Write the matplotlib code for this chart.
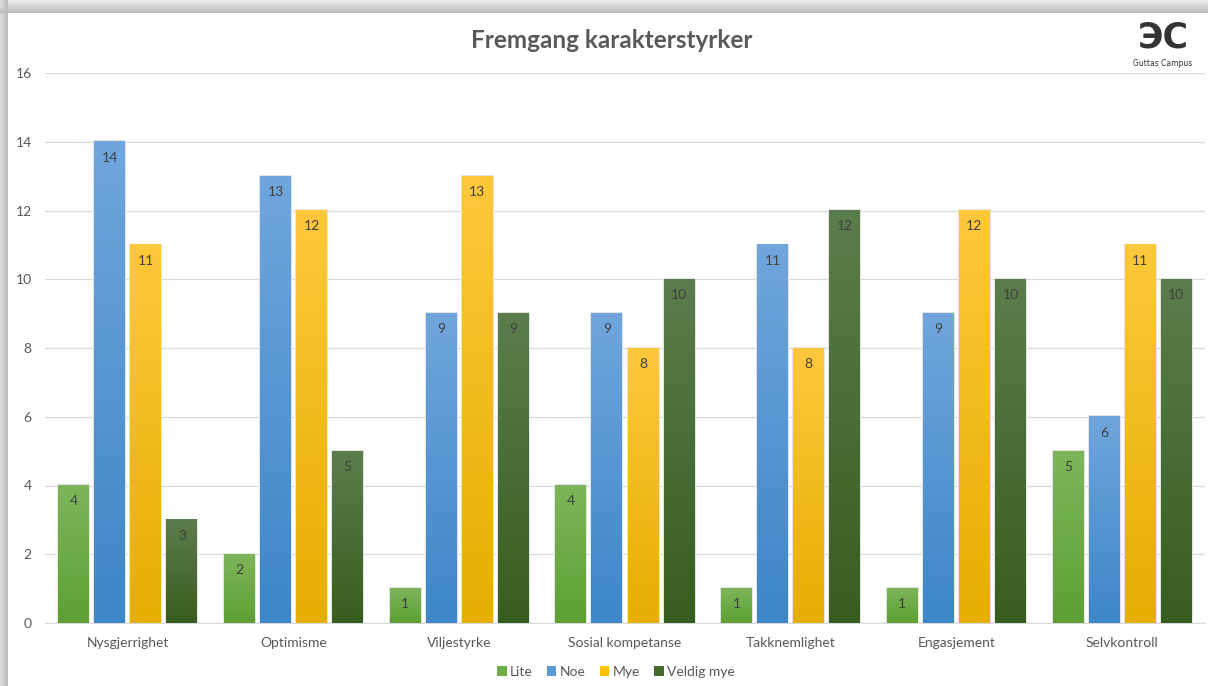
import numpy as np
import matplotlib
matplotlib.use("Agg")
import matplotlib.pyplot as plt
from matplotlib.patches import Patch, Rectangle
from matplotlib.colors import to_rgb

plt.rcParams['font.family'] = ['Lato', 'DejaVu Sans']

categories = ["Nysgjerrighet", "Optimisme", "Viljestyrke", "Sosial kompetanse",
              "Takknemlighet", "Engasjement", "Selvkontroll"]
lite = [4, 2, 1, 4, 1, 1, 5]
noe = [14, 13, 9, 9, 11, 9, 6]
mye = [11, 12, 13, 8, 8, 12, 11]
veldig_mye = [3, 5, 9, 10, 12, 10, 10]
series_names = ["Lite", "Noe", "Mye", "Veldig mye"]
series_values = [lite, noe, mye, veldig_mye]
title = "Fremgang karakterstyrker"
yticks = [0, 2, 4, 6, 8, 10, 12, 14, 16]

legend_colors = ["#70AD47", "#5B9BD5", "#FFC000", "#446B2E"]
grad_top = ["#7DB65A", "#70A6DD", "#FFC83C", "#5B7D4C"]
grad_bot = ["#5EA034", "#3D86C8", "#E5AE00", "#375E1F"]

W, H = 1208, 686
fig = plt.figure(figsize=(W / 100, H / 100), dpi=100)

# background with shadow on left and top
bg = fig.add_axes([0, 0, 1, 1], zorder=-10)
img = np.ones((H, W, 3))
for x in range(8):
    v = 0.86 - 0.12 * (x / 7)
    img[:, x, :] = v
for y in range(13):
    v = 0.92 - 0.18 * (y / 12)
    img[y, :, :] = np.minimum(img[y, :, :], v)
bg.imshow(img, aspect='auto', extent=(0, 1, 0, 1), interpolation='bilinear')
bg.set_axis_off()

ax = fig.add_axes([45 / W, 1 - 623 / H, (1205 - 45) / W, (623 - 73) / H])
ax.set_facecolor('none')

n = len(categories)
xs = np.arange(n)
bw = 0.187
pitch = 0.2175
offsets = (np.arange(4) - 1.5) * pitch

for si, vals in enumerate(series_values):
    c_top = np.array(to_rgb(grad_top[si]))
    c_bot = np.array(to_rgb(grad_bot[si]))
    t = np.linspace(0, 1, 100)[:, None]
    grad = (c_top * (1 - t) + c_bot * t)[:, None, :]
    for ci, v in enumerate(vals):
        x0 = xs[ci] + offsets[si] - bw / 2
        ax.add_patch(Rectangle((x0 - 0.006, 0), bw + 0.012, v + 0.04,
                               facecolor='#e4e4e4', edgecolor='none', zorder=2))
        ax.imshow(grad, aspect='auto', extent=(x0, x0 + bw, 0, v),
                  interpolation='bilinear', zorder=3)
        ax.text(xs[ci] + offsets[si], v - 0.46, str(v), ha='center', va='center',
                fontsize=10, color='#404040', zorder=4)

ax.set_xlim(-0.5, n - 0.5)
ax.set_ylim(0, 16)
ax.set_yticks(yticks)
ax.set_xticks(xs)
ax.set_xticklabels(categories)
ax.grid(axis='y', color='#d9d9d9', linewidth=0.9, zorder=0)
ax.set_axisbelow(True)
for s in ['top', 'right', 'left']:
    ax.spines[s].set_visible(False)
ax.spines['bottom'].set_color('#d9d9d9')
ax.spines['bottom'].set_linewidth(0.9)
ax.tick_params(axis='both', length=0, colors='#595959', labelsize=10)
ax.tick_params(axis='y', pad=9.5)
ax.tick_params(axis='x', pad=10)

fig.text(612 / W, 1 - 40 / H, title, ha='center', va='center', fontsize=17.5,
         fontweight='bold', color='#595959')

# logo
fig.text(1163 / W, 1 - 37 / H, "ЭC", ha='center', va='center', fontsize=25,
         fontweight='bold', color='#333333', family=['DejaVu Sans'])
fig.text(1163 / W, 1 - 63 / H, "Guttas Campus", ha='center', va='center',
         fontsize=5.5, color='#333333', family=['DejaVu Sans'])

handles = [Patch(facecolor=c, edgecolor='none', label=l)
           for c, l in zip(legend_colors, series_names)]
fig.legend(handles=handles, loc='center', bbox_to_anchor=(616 / W, 1 - 672 / H),
           ncol=4, frameon=False, fontsize=10, handlelength=0.7, handleheight=0.7,
           handletextpad=0.25, columnspacing=1.0, labelcolor='#595959')

fig.savefig("out.png", dpi=100)
